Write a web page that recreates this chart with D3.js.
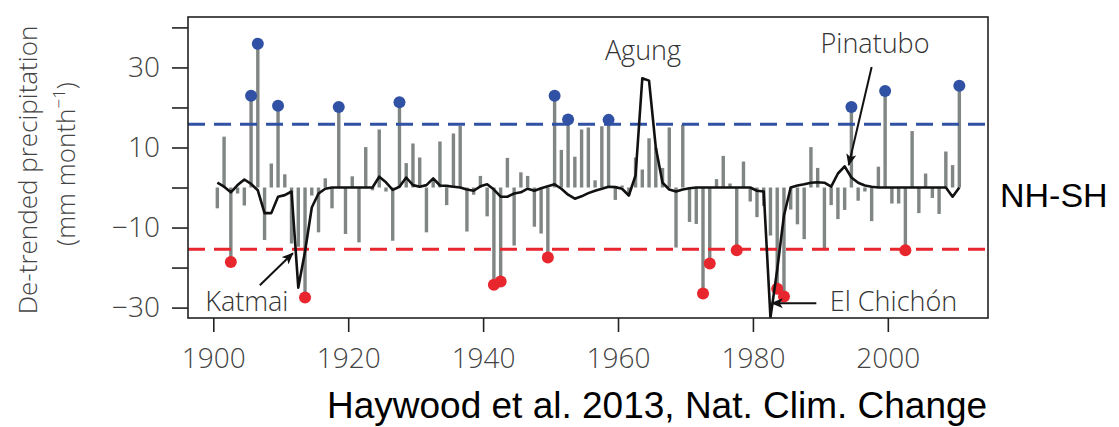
<!DOCTYPE html>
<html>
<head>
<meta charset="utf-8">
<script src="https://cdn.jsdelivr.net/npm/d3@7/dist/d3.min.js"></script>
<style>
  body { margin: 0; background: #fff; }
  svg text { font-family: "Open Sans", "DejaVu Sans", sans-serif; }
</style>
</head>
<body>
<div class="chart"></div>
<script>
// years of the record (one bar per year)
const years = d3.range(1900, 2011);

// de-trended NH-SH precipitation anomaly (mm/month)
const precip = [
  -5.2, 12.7, -18.6, -1.5, -4.5, 22.9, 35.9, -13.1, 6.0, 20.4,
  3.3, -14.0, -14.8, -27.5, -2.0, -11.2, 2.3, -5.2, 20.1, -11.6,
  2.8, -13.7, 10.1, -0.7, 14.5, -1.0, -13.3, 21.3, 6.1, 11.0,
  7.5, -11.2, 2.0, 11.5, -4.4, 13.5, 15.4, -11.0, -1.8, 2.9,
  -7.2, -24.3, -23.5, 7.4, -14.5, 3.8, 2.9, -9.8, -11.5, -17.5,
  22.9, 9.4, 17.0, 7.7, 14.5, 15.0, 1.8, 15.3, 16.9, -3.1,
  0.5, -2.0, 7.5, 4.5, 12.3, 10.0, 4.9, 15.0, -15.0, 15.7,
  -8.6, -9.1, -26.5, -19.0, 2.1, 7.9, 1.0, -15.7, 6.5, -3.5,
  -7.4, -4.6, -12.0, -25.3, -27.2, -5.5, -9.2, -12.9, 10.1, 4.9,
  -15.2, -4.4, -7.9, -5.6, 20.1, -3.3, -1.0, -8.4, 5.2, 24.1,
  -4.0, -4.0, -15.7, 14.1, -6.4, 3.5, -2.6, -6.6, 9.0, 5.6,
  25.4
];

// modelled volcanic signal (black line)
const volcanic = [
  1.2, 0.2, -1.2, 0.6, 2.0, 0.9, -0.7, -6.4, -6.4, -2.3,
  -1.9, -1.0, -25.0, -16.0, -5.0, -1.5, -0.3, 0, 0, 0,
  0, 0, 0, 0, 2.7, 1.3, -0.6, 0.2, 2.5, 0.6,
  0.2, 0.6, 2.3, 0.5, 0.4, 0.2, 0, -0.5, -0.8, 0.3,
  0.8, -0.5, -2.3, -2.3, -1.5, -1.2, -0.3, -0.8, -0.2, 0.3,
  0.8, -0.3, -1.8, -2.8, -2.2, -1.4, -0.8, -0.3, 0.2, 0.1,
  -0.3, -2.0, 3.0, 27.3, 26.7, 10.0, 1.2, -0.5, -1.0, -0.5,
  -0.2, 0, 0, 0, 0, 0, 0, 0, 0, 0,
  -0.8, -1.0, -32.5, -20.5, -7.0, 0, 0.5, 0.8, 1.2, 1.3,
  1.2, 0.2, 3.5, 5.3, 2.5, 1.2, 0.5, 0.2, 0, 0,
  0, 0, 0, 0, 0, 0, 0, 0, 0, -2.3,
  0
];

// significance thresholds (dashed lines)
const upperLimit = 15.8;
const lowerLimit = -15.4;

const yTicks = [-30, -20, -10, 0, 10, 20, 30, 40];
const yLabels = [30, 10, -10, -30];
const xTicks = [1900, 1920, 1940, 1960, 1980, 2000];

// eruption labels: [name, arrow tail year, tail value, tip year, tip value, text year, text value, anchor]
const eruptions = [
  ['Katmai', 1906.9, -24.4, 1911.8, -16.4, 1898.8, -30.9, 'start'],
  ['Agung', null, null, null, null, 1963.7, 31.9, 'middle'],
  ['El Chichón', 1989.4, -28.9, 1982.8, -28.9, 1991.4, -30.9, 'start'],
  ['Pinatubo', 1997.6, 30.1, 1994.2, 5.6, 1998.1, 33.6, 'middle']
];

const w = 1119;
const h = 427;
const plot = { left: 188, right: 988, top: 17, bottom: 318 };

const data = years.map((y, i) => ({ year: y, value: precip[i], model: volcanic[i] }));

const xScale = d3.scaleLinear()
  .domain([1896.25, 2014.85])
  .range([plot.left, plot.right]);
const yScale = d3.scaleLinear()
  .domain([-32.6, 42.6])
  .range([plot.bottom, plot.top]);

const barOffset = 0.6;

const svg = d3.select('.chart')
  .append('svg')
  .attr('width', w)
  .attr('height', h);

svg.append('defs')
  .append('clipPath')
  .attr('id', 'clip')
  .append('rect')
  .attr('x', plot.left)
  .attr('y', plot.top)
  .attr('width', plot.right - plot.left)
  .attr('height', plot.bottom - plot.top);

svg.select('defs')
  .append('marker')
  .attr('id', 'arrow')
  .attr('viewBox', '0 0 12 10')
  .attr('refX', 11)
  .attr('refY', 5)
  .attr('markerWidth', 12)
  .attr('markerHeight', 10)
  .attr('markerUnits', 'userSpaceOnUse')
  .attr('orient', 'auto')
  .append('path')
  .attr('d', 'M0,0 L12,5 L0,10 L3,5 Z')
  .attr('fill', '#111');

const plotArea = svg.append('g').attr('clip-path', 'url(#clip)');

// bars
plotArea.selectAll('rect.bar')
  .data(data)
  .enter()
  .append('rect')
  .attr('class', 'bar')
  .attr('x', (d) => xScale(d.year + barOffset) - 1.7)
  .attr('width', 3.4)
  .attr('y', (d) => yScale(Math.max(0, d.value)))
  .attr('height', (d) => Math.abs(yScale(d.value) - yScale(0)))
  .attr('fill', '#808684');

// threshold lines
[[upperLimit, '#3152a4'], [lowerLimit, '#e8262d']].forEach(([v, c]) => {
  plotArea.append('line')
    .attr('x1', plot.left)
    .attr('x2', plot.right)
    .attr('y1', yScale(v))
    .attr('y2', yScale(v))
    .attr('stroke', c)
    .attr('stroke-width', 3)
    .attr('stroke-dasharray', '17,9');
});

// dots at the exceedances
plotArea.selectAll('circle.dot')
  .data(data.filter((d) => d.value > upperLimit || d.value < lowerLimit))
  .enter()
  .append('circle')
  .attr('class', 'dot')
  .attr('cx', (d) => xScale(d.year + barOffset))
  .attr('cy', (d) => yScale(d.value))
  .attr('r', 6)
  .attr('fill', (d) => d.value > 0 ? '#3152a4' : '#e8262d');

// volcanic signal
const line = d3.line()
  .x((d) => xScale(d.year + barOffset))
  .y((d) => yScale(d.model));

plotArea.append('path')
  .datum(data)
  .attr('d', line)
  .attr('fill', 'none')
  .attr('stroke', '#111')
  .attr('stroke-width', 2.6)
  .attr('stroke-linejoin', 'round');

// frame
svg.append('rect')
  .attr('x', plot.left)
  .attr('y', plot.top)
  .attr('width', plot.right - plot.left)
  .attr('height', plot.bottom - plot.top)
  .attr('fill', 'none')
  .attr('stroke', '#222')
  .attr('stroke-width', 1.6);

// axes
const fmt = (d) => yLabels.includes(d) ? (d < 0 ? '\u2212' + Math.abs(d) : String(d)) : '';

const yAxis = svg.append('g')
  .attr('class', 'y-axis')
  .attr('transform', `translate(${plot.left}, 0)`)
  .call(d3.axisLeft(yScale).tickValues(yTicks).tickSize(16).tickPadding(12).tickFormat(fmt));

const xAxis = svg.append('g')
  .attr('class', 'x-axis')
  .attr('transform', `translate(0, ${plot.bottom})`)
  .call(d3.axisBottom(xScale).tickValues(xTicks).tickSize(14).tickPadding(16).tickFormat(d3.format('d')));

[yAxis, xAxis].forEach((a) => {
  a.select('.domain').remove();
  a.selectAll('.tick line').attr('stroke', '#222').attr('stroke-width', 1.6);
  a.selectAll('.tick text')
    .attr('fill', '#444')
    .style('font-size', '28px')
    .style('font-family', '"Open Sans", sans-serif')
    .style('font-weight', 300);
});

// y axis title
const yTitle = svg.append('g')
  .attr('fill', '#444')
  .style('font-size', '26px')
  .style('font-weight', 300);

yTitle.append('text')
  .attr('transform', 'translate(37, 170) rotate(-90)')
  .attr('text-anchor', 'middle')
  .text('De-trended precipitation');

const unit = yTitle.append('text')
  .attr('transform', 'translate(75, 164) rotate(-90)')
  .attr('text-anchor', 'middle');
unit.append('tspan').text('(mm month');
unit.append('tspan').attr('dy', -10).style('font-size', '17px').text('\u22121');
unit.append('tspan').attr('dy', 10).text(')');

// eruption annotations
eruptions.forEach(([name, tx, tv, hx, hv, lx, lv, anchor]) => {
  if (tx !== null) {
    svg.append('line')
      .attr('x1', xScale(tx))
      .attr('y1', yScale(tv))
      .attr('x2', xScale(hx))
      .attr('y2', yScale(hv))
      .attr('stroke', '#111')
      .attr('stroke-width', 2)
      .attr('marker-end', 'url(#arrow)');
  }
  svg.append('text')
    .attr('x', xScale(lx))
    .attr('y', yScale(lv))
    .attr('text-anchor', anchor)
    .attr('fill', '#333')
    .style('font-size', '27px')
    .style('font-weight', 300)
    .text(name);
});

svg.append('text')
  .attr('x', 1000)
  .attr('y', 207)
  .style('font-family', '"Liberation Sans", Arial, sans-serif')
  .style('font-size', '34px')
  .attr('fill', '#000')
  .text('NH-SH');

svg.append('text')
  .attr('x', 327)
  .attr('y', 418)
  .style('font-family', '"Liberation Sans", Arial, sans-serif')
  .style('font-size', '37px')
  .attr('fill', '#000')
  .text('Haywood et al. 2013, Nat. Clim. Change');
</script>
</body>
</html>
